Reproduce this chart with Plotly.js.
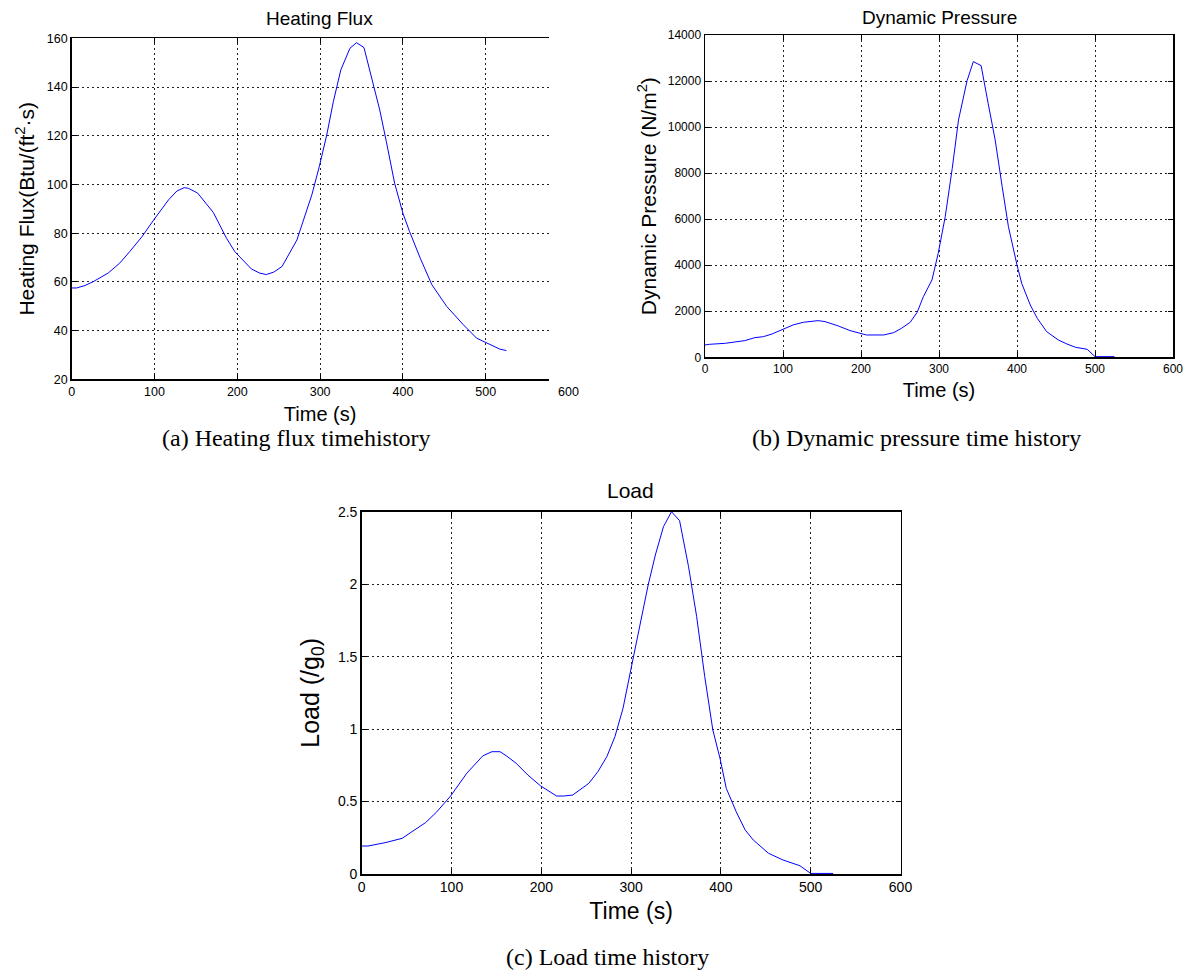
<!DOCTYPE html>
<html><head><meta charset="utf-8">
<script src="https://cdn.plot.ly/plotly-3.0.1.min.js"></script>
<style>html,body{margin:0;padding:0;background:#fff}#chart{width:1189px;height:977px}</style>
</head><body><div id="chart"></div>
<script>
// ---- data ----
const heatTime = [0,6,16,26,44,58,70,85,99,109,117,127,136,141,152,171,187,197,217,227,235,244,254,272,290,299,308,316,325,336,344,353,363,372,380,390,400,408,421,435,453,473,489,509,517,525];
const heatFlux = [57.5,57.5,58.5,60.1,63.6,67.7,72.4,78.6,85.4,90.2,93.7,97.3,98.7,98.4,96.5,88.5,77.9,72.4,65.3,63.6,63.0,64.0,66.3,77.2,95.7,107.3,120.3,134,147,155.9,158.2,156.2,142.9,130.6,117.6,100.5,88.2,80.7,69.7,58.8,49.9,42.4,36.9,33.5,32.4,31.8];

const pressTime = [0,6,26,51,64,75,86,99,113,126,145,154,171,186,200,207,229,242,252,263,272,280,291,299,308,317,325,336,344,354,363,372,381,389,400,406,417,426,438,453,464,475,490,500,525];
const dynPressure = [536,565,608,724,854,898,1014,1187,1405,1520,1593,1549,1361,1158,1042,970,970,1071,1260,1520,1955,2635,3359,4518,6111,8210,10310,12018,12844,12670,11034,9441,7414,5676,4011,3215,2273,1694,1115,753,579,434,348,29,29];

const loadTime = [0,7,26,45,56,71,83,99,117,135,145,154,161,172,185,199,217,225,235,253,263,273,282,291,300,310,319,327,336,345,354,364,373,382,391,399,406,417,427,436,453,469,488,500,525];
const loadG = [0.193,0.193,0.216,0.246,0.292,0.354,0.425,0.538,0.695,0.816,0.844,0.844,0.816,0.764,0.683,0.609,0.538,0.538,0.545,0.626,0.706,0.810,0.948,1.143,1.419,1.718,1.994,2.201,2.396,2.5,2.438,2.12,1.776,1.362,0.994,0.798,0.591,0.43,0.304,0.235,0.143,0.097,0.057,0.004,0.004];

const subplotTitles = ['Heating Flux', 'Dynamic Pressure', 'Load'];
const captions = ['(a) Heating flux timehistory', '(b) Dynamic pressure time history', '(c) Load time history'];
const xTitle = 'Time (s)';
const yTitles = ['Heating Flux(Btu/(ft<sup>2</sup>·s)', 'Dynamic Pressure (N/m<sup>2</sup>)', 'Load (/g<sub>0</sub>)'];

// ---- layout helpers ----
const W = 1189, H = 977;
const px = x => x / W;
const py = y => 1 - y / H;
const sans = 'Liberation Sans, Arial, sans-serif';
const serif = 'Liberation Serif, Times New Roman, serif';

function axisBase(dom, range, dtick, tickSize, title, titleSize, standoff, anchor) {
  return {
    domain: dom, range: range, dtick: dtick, tick0: 0,
    ticks: 'inside', ticklen: 5, tickwidth: 1, tickcolor: '#000',
    showline: true, linecolor: '#000', linewidth: 1.5, mirror: 'ticks',
    showgrid: true, gridcolor: '#222', gridwidth: 1, griddash: '2px,3px',
    zeroline: false, anchor: anchor, automargin: false, fixedrange: true,
    tickfont: {family: sans, size: tickSize, color: '#000'},
    title: {text: title, font: {family: sans, size: titleSize, color: '#000'}, standoff: standoff}
  };
}

const lineStyle = {color: '#0000ff', width: 1};
const traces = [
  {x: heatTime, y: heatFlux, type: 'scatter', mode: 'lines', line: lineStyle, xaxis: 'x', yaxis: 'y', hoverinfo: 'skip'},
  {x: pressTime, y: dynPressure, type: 'scatter', mode: 'lines', line: lineStyle, xaxis: 'x2', yaxis: 'y2', hoverinfo: 'skip'},
  {x: loadTime, y: loadG, type: 'scatter', mode: 'lines', line: lineStyle, xaxis: 'x3', yaxis: 'y3', hoverinfo: 'skip'}
];

const layout = {
  width: W, height: H,
  margin: {l: 0, r: 0, t: 0, b: 0},
  paper_bgcolor: '#fff', plot_bgcolor: '#fff',
  showlegend: false,
  xaxis: axisBase([px(71.7), px(568.5)], [0, 600], 100, 12.5, xTitle, 20, 9, 'y'),
  yaxis: axisBase([py(379.3), py(38.3)], [20, 160], 20, 12.5, yTitles[0], 21, 6, 'x'),
  xaxis2: axisBase([px(705), px(1173)], [0, 600], 100, 12, xTitle, 20, 8, 'y2'),
  yaxis2: Object.assign(axisBase([py(357.3), py(35)], [0, 14000], 2000, 12, yTitles[1], 21, 5, 'x2'), {tickformat: 'd'}),
  xaxis3: axisBase([px(361.7), px(900.5)], [0, 600], 100, 14, xTitle, 23, 8, 'y3'),
  yaxis3: axisBase([py(874), py(511.7)], [0, 2.5], 0.5, 14, yTitles[2], 25, 11, 'x3'),
  shapes: [
    // right part of panel (a) is cut off in the source figure
    {type: 'rect', xref: 'paper', yref: 'paper', x0: px(549), x1: px(575), y0: py(382), y1: py(30),
     fillcolor: '#fff', line: {width: 0}, layer: 'above'}
  ],
  annotations: [
    {text: subplotTitles[0], x: px(319), y: py(18), xref: 'paper', yref: 'paper', showarrow: false, xanchor: 'center', yanchor: 'middle', font: {family: sans, size: 19, color: '#000'}},
    {text: subplotTitles[1], x: px(939), y: py(17), xref: 'paper', yref: 'paper', showarrow: false, xanchor: 'center', yanchor: 'middle', font: {family: sans, size: 19, color: '#000'}},
    {text: subplotTitles[2], x: px(630), y: py(491), xref: 'paper', yref: 'paper', showarrow: false, xanchor: 'center', yanchor: 'middle', font: {family: sans, size: 21, color: '#000'}},
    {text: captions[0], x: px(296), y: py(438), xref: 'paper', yref: 'paper', showarrow: false, xanchor: 'center', yanchor: 'middle', font: {family: serif, size: 24, color: '#000'}},
    {text: captions[1], x: px(916), y: py(438), xref: 'paper', yref: 'paper', showarrow: false, xanchor: 'center', yanchor: 'middle', font: {family: serif, size: 24, color: '#000'}},
    {text: captions[2], x: px(607), y: py(957), xref: 'paper', yref: 'paper', showarrow: false, xanchor: 'center', yanchor: 'middle', font: {family: serif, size: 24, color: '#000'}}
  ]
};

Plotly.newPlot('chart', traces, layout, {staticPlot: true, displayModeBar: false});
</script>
</body></html>
